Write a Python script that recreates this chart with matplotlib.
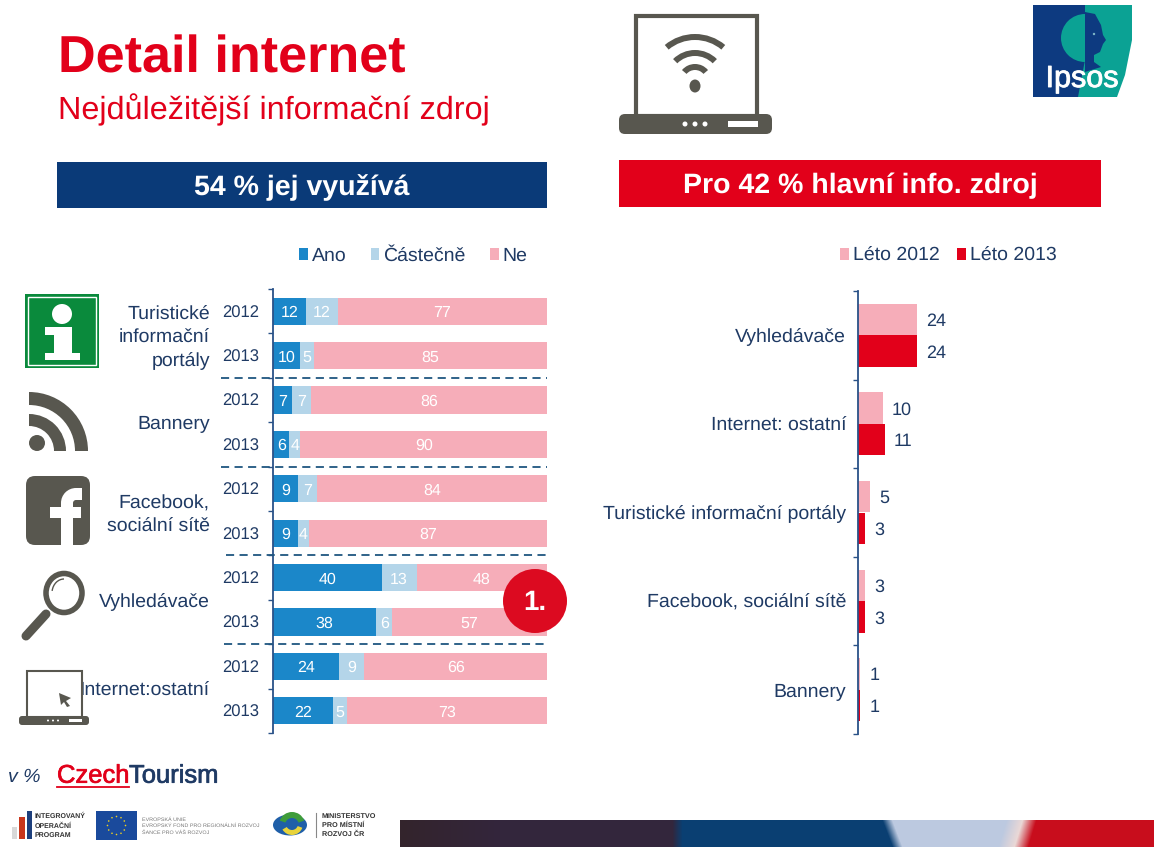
import numpy as np
import matplotlib
matplotlib.use('Agg')
import matplotlib.pyplot as plt
import matplotlib.patheffects as pe
from matplotlib.patches import Rectangle, Circle, Ellipse, Wedge, Polygon, FancyBboxPatch, Arc
from matplotlib.colors import to_rgb

plt.rcParams['font.family'] = ['Liberation Sans', 'DejaVu Sans']
plt.rcParams['text.hinting'] = 'no_hinting'

# left chart
years = ['2012', '2013'] * 5
ano = [12, 10, 7, 6, 9, 9, 40, 38, 24, 22]
castecne = [12, 5, 7, 4, 7, 4, 13, 6, 9, 5]
ne = [77, 85, 86, 90, 84, 87, 48, 57, 66, 73]
left_cats = ['Turistické\ninformační\nportály', 'Bannery', 'Facebook,\nsociální sítě', 'Vyhledávače', 'Internet:ostatní']

# right chart
right_cats = ['Vyhledávače', 'Internet: ostatní', 'Turistické informační portály', 'Facebook, sociální sítě', 'Bannery']
leto_2012 = [24, 10, 5, 3, 1]
leto_2013 = [24, 11, 3, 3, 1]

W, H = 1154, 847
NAVY = '#1f3a64'
AXIS = '#2a5288'
BLUE = '#1b87c9'
LIGHT = '#b4d5e9'
PINK = '#f6adb9'
RED = '#e2001a'
GRAY = '#58574f'

fig = plt.figure(figsize=(W / 100, H / 100), dpi=100, facecolor='white')


def px_axes(l, t, r, b):
    return fig.add_axes([l / W, 1 - b / H, (r - l) / W, (b - t) / H])


# stacked bars, each row scaled to 100
ax = px_axes(273, 289, 547, 733)
rows = np.arange(len(years))
totals = np.array(ano) + np.array(castecne) + np.array(ne)
start = np.zeros(len(years))
for vals, col, name in [(ano, BLUE, 'Ano'), (castecne, LIGHT, 'Částečně'), (ne, PINK, 'Ne')]:
    share = np.array(vals) / totals * 100
    bars = ax.barh(rows, share, left=start, height=0.61, color=col, label=name)
    for t in ax.bar_label(bars, labels=[str(v) for v in vals], label_type='center', color='white', fontsize=11.5):
        t.set_va('center_baseline')
    start = start + share
ax.set_xlim(0, 100)
ax.set_ylim(9.5, -0.5)
ax.set_yticks(np.arange(-0.5, 10, 1))
ax.set_yticklabels([])
ax.set_yticks(rows, labels=years, minor=True)
ax.tick_params(axis='y', which='major', length=3.6, width=1, color=AXIS)
ax.tick_params(axis='y', which='minor', length=0, pad=10, labelsize=12, labelcolor=NAVY)
ax.xaxis.set_visible(False)
for s in ['top', 'right', 'bottom']:
    ax.spines[s].set_visible(False)
ax.spines['left'].set_color(AXIS)
ax.spines['left'].set_linewidth(1.3)

for y, x0, x1 in [(1.5, -19, 100), (3.5, -19, 100), (5.5, -17, 101.5), (7.5, -18, 100.4)]:
    ax.plot([x0, x1], [y, y], color='#1f5680', lw=1.3, dashes=(4.5, 3), clip_on=False, zorder=5)
for i, cat in enumerate(left_cats):
    ax.annotate(cat, xy=(0, 2 * i + 0.5), xycoords=('axes fraction', 'data'), xytext=(-45.5, 0),
                textcoords='offset points', ha='right', va='center_baseline', fontsize=14, color=NAVY, linespacing=1.4)
fig.legend(*ax.get_legend_handles_labels(), loc='center left', bbox_to_anchor=(299 / W, 1 - 256 / H), ncol=3,
           frameon=False, fontsize=14, labelcolor=NAVY, handlelength=0.45, handleheight=0.6, handletextpad=0.2,
           columnspacing=1.25, borderpad=0, borderaxespad=0)

# grouped bars
ax2 = px_axes(858, 291, 1100, 734)
pos = np.arange(len(right_cats))
b1 = ax2.barh(pos - 0.178, leto_2012, height=0.355, color=PINK, label='Léto 2012')
b2 = ax2.barh(pos + 0.178, leto_2013, height=0.355, color=RED, label='Léto 2013')
for t in ax2.bar_label(b1, padding=6.5, fontsize=13, color=NAVY) + ax2.bar_label(b2, padding=6.5, fontsize=13, color=NAVY):
    t.set_va('center_baseline')
ax2.set_xlim(0, 98.4)
ax2.set_ylim(4.5, -0.5)
ax2.set_yticks(np.arange(-0.5, 5, 1))
ax2.set_yticklabels([])
ax2.set_yticks(pos, labels=right_cats, minor=True)
ax2.tick_params(axis='y', which='major', length=3.6, width=1, color=AXIS)
ax2.tick_params(axis='y', which='minor', length=0, pad=8.5, labelsize=14, labelcolor=NAVY)
ax2.xaxis.set_visible(False)
for s in ['top', 'right', 'bottom']:
    ax2.spines[s].set_visible(False)
ax2.spines['left'].set_color(AXIS)
ax2.spines['left'].set_linewidth(1.3)
fig.legend(*ax2.get_legend_handles_labels(), loc='center left', bbox_to_anchor=(840 / W, 1 - 256 / H), ncol=2,
           frameon=False, fontsize=14, labelcolor=NAVY, handlelength=0.45, handleheight=0.6, handletextpad=0.2,
           columnspacing=0.92, borderpad=0, borderaxespad=0)

# slide furniture in pixel coordinates
ov = fig.add_axes([0, 0, 1, 1])
ov.set_xlim(0, W)
ov.set_ylim(H, 0)
ov.set_autoscale_on(False)
ov.axis('off')
ov.patch.set_alpha(0)


def rect(x0, y0, x1, y1, **kw):
    ov.add_patch(Rectangle((x0, y0), x1 - x0, y1 - y0, lw=kw.pop('lw', 0), **kw))


def rbox(x0, y0, x1, y1, r, **kw):
    ov.add_patch(FancyBboxPatch((x0 + r, y0 + r), x1 - x0 - 2 * r, y1 - y0 - 2 * r,
                                boxstyle='round,pad=%f' % r, lw=0, **kw))


ov.text(58, 59, 'Detail internet', fontsize=37.5, fontweight='bold', color=RED, va='center')
ov.text(58, 110, 'Nejdůležitější informační zdroj', fontsize=23.3, color=RED, va='center')
rect(57, 162, 547, 208, color='#0a3a78')
ov.text(302, 188, '54 % jej využívá', fontsize=20.5, fontweight='bold', color='white', ha='center', va='center')
rect(619, 160, 1101, 207, color=RED)
ov.text(860, 186, 'Pro 42 % hlavní info. zdroj', fontsize=20.5, fontweight='bold', color='white', ha='center', va='center')

# "1." badge
ov.add_patch(Circle((535, 601), 32, color='#dc0a20', lw=0))
ov.text(535, 603, '1.', fontsize=20, fontweight='bold', color='white', ha='center', va='center')

# info icon
rect(25, 294, 99, 368, color='#0a8a3c')
rect(28, 297, 96, 365, fill=False, ec='white', lw=1)
ov.add_patch(Circle((62, 314), 10, color='white', lw=0))
rect(45, 327, 71, 335, color='white')
rect(54, 327, 72, 358, color='white')
rect(45, 353, 80, 360, color='white')

# rss icon
ov.add_patch(Circle((37, 443), 8, color=GRAY, lw=0))
ov.add_patch(Wedge((29, 451), 59, 270, 360, width=13, color=GRAY, lw=0))
ov.add_patch(Wedge((29, 451), 37, 270, 360, width=12, color=GRAY, lw=0))

# facebook icon
rbox(26, 476, 90, 545, 9, color=GRAY)
rect(61, 503, 73, 545, color='white')
rect(50, 507, 81, 518, color='white')
ov.add_patch(Wedge((76, 503), 15, 180, 270, width=12, color='white', lw=0))
rect(76, 488, 82, 500, color='white')

# magnifier icon
ov.add_patch(Ellipse((64, 593), 36, 39, fc='white', ec=GRAY, lw=4))
ov.add_patch(Arc((64, 593), 24, 28, theta1=190, theta2=270, color=GRAY, lw=1))
ov.plot([46, 26], [614, 636], color=GRAY, lw=6.5, solid_capstyle='round')

# small laptop icon
rect(27, 671, 82, 717, fc='white', ec=GRAY, lw=1.5)
rbox(19, 716, 89, 725, 3, color=GRAY)
ov.add_patch(Polygon([[59, 693], [71, 698], [66, 701], [70, 706], [67, 707], [64, 702], [61, 705]], color=GRAY, lw=0))
rect(69, 719, 82, 722, color='white')
for x in [48, 53, 58]:
    ov.add_patch(Circle((x, 720.5), 1, color='white', lw=0))

# wifi laptop
rect(636, 16, 757, 116, fc='white', ec=GRAY, lw=3)
rbox(619, 114, 772, 134, 6, color=GRAY)
for x in [685, 695, 705]:
    ov.add_patch(Circle((x, 124), 2.5, color='white', lw=0))
rect(728, 121, 758, 127, color='white')
for r, w, a in [(47, 6, 40), (31, 6, 45), (17, 6, 50)]:
    ov.add_patch(Wedge((695, 81), r, 270 - a, 270 + a, width=w, color=GRAY, lw=0))
ov.add_patch(Ellipse((695, 86), 11, 13, color=GRAY, lw=0))

# ipsos logo
rect(1033, 5, 1090, 97, color='#0d3a80')
ov.add_patch(Polygon([[1085, 5], [1132, 5], [1132, 40], [1125, 75], [1117, 97], [1078, 97], [1085, 60]], color='#0ba294', lw=0))
ov.add_patch(Polygon([[1085, 12], [1095, 14], [1101, 25], [1103, 35], [1106, 40], [1103, 44], [1100, 52], [1094, 55],
                      [1094, 62], [1101, 67], [1085, 72]], color='#0d3a80', lw=0))
ov.add_patch(Wedge((1085, 38), 24, 90, 270, color='#0ba294', lw=0))
ov.add_patch(Circle((1094, 34), 1.2, color='#7fb8c8', lw=0))
ov.text(1082, 79, 'Ipsos', fontsize=22, color='white', ha='center', va='center',
        path_effects=[pe.withStroke(linewidth=0.6, foreground='white')])

# footer text
ov.text(8, 777, 'v %', fontsize=14, style='italic', color=NAVY, va='center')
ov.text(57, 776, 'Czech', fontsize=18.4, color=RED, va='center',
        path_effects=[pe.withStroke(linewidth=0.5, foreground=RED)])
ov.text(129, 776, 'Tourism', fontsize=18.4, color=NAVY, va='center',
        path_effects=[pe.withStroke(linewidth=0.5, foreground=NAVY)])
ov.plot([57, 129], [787, 787], color=RED, lw=1.3)

# iop logo
rect(12, 827, 17, 839, color='#d8d8d8')
rect(19, 817, 25, 839, color='#c8361c')
rect(27, 811, 32, 839, color='#1d3f7c')
ov.text(35, 826, 'INTEGROVANÝ\nOPERAČNÍ\nPROGRAM', fontsize=5, fontweight='bold', color='#333333', va='center', linespacing=1.6)

# eu logo
rect(96, 811, 137, 840, color='#1a4a9c')
for k in range(12):
    t = 2 * np.pi * k / 12
    ov.add_patch(Circle((116.5 + 9 * np.cos(t), 825.5 + 9 * np.sin(t)), 0.8, color='#f2d21e', lw=0))
ov.text(142, 826, 'EVROPSKÁ UNIE\nEVROPSKÝ FOND PRO REGIONÁLNÍ ROZVOJ\nŠANCE PRO VÁŠ ROZVOJ', fontsize=3.9, color='#777777', va='center', linespacing=1.6)

# mmr logo
ov.add_patch(Ellipse((290, 825), 34, 21, color='#1f5fa8', lw=0))
ov.add_patch(Wedge((292, 825), 13, 200, 340, width=6, color='#3f9c3a', lw=0))
ov.add_patch(Wedge((292, 824), 11, 20, 150, width=5, color='#e8d33a', lw=0))
ov.plot([316, 316], [813, 837], color='#888888', lw=0.8)
ov.text(322, 825, 'MINISTERSTVO\nPRO MÍSTNÍ\nROZVOJ ČR', fontsize=5.2, fontweight='bold', color='#333333', va='center', linespacing=1.5)

# bottom colour band, soft edges with sheared colour stops
band_cols = ['#33242c', '#33263c', '#33263c', '#0a3f72', '#0a3f72', '#bcc9e0', '#bcc9e0', '#ead8d6', '#c80d1c', '#c80d1c']
band_rgb = np.array([to_rgb(c) for c in band_cols])
band_h = 27
band_x = np.arange(400, 1154)
band = np.zeros((band_h, len(band_x), 3))
for i in range(band_h):
    f = i / (band_h - 1)
    stops = [400, 500, 672, 682, 882 + 10 * f, 892 + 10 * f, 1006 - 8 * f, 1022 - 8 * f, 1036 - 8 * f, 1154]
    for c in range(3):
        band[i, :, c] = np.interp(band_x, stops, band_rgb[:, c])
ov.imshow(band, extent=(400, 1154, 847, 820), aspect='auto', interpolation='bilinear')
ov.set_xlim(0, W)
ov.set_ylim(H, 0)

fig.savefig('out.png', dpi=100)
